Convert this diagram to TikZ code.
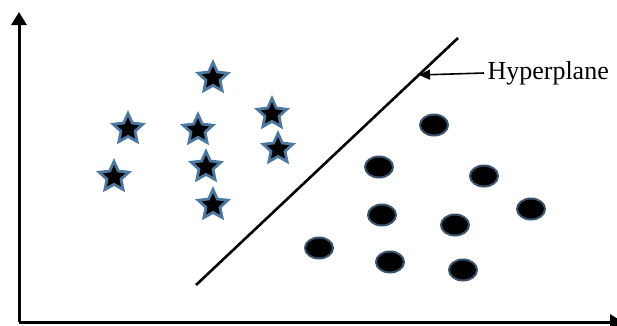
\documentclass[tikz,border=0pt]{standalone}
\usepackage{fontspec}
\setmainfont{Liberation Serif}
\usepackage{xcolor}
\usetikzlibrary{shapes.geometric, arrows.meta}

\definecolor{edgeblue}{RGB}{75,120,160}
\definecolor{dotedge}{RGB}{60,85,110}

\begin{document}
\begin{tikzpicture}[
        x=1pt, y=-1pt,
        axis/.style={line width=3pt, -{Triangle[length=13pt, width=15pt]}},
        plane/.style={line width=2.6pt},
        pointer/.style={line width=1.6pt, -{Triangle[length=11pt, width=10pt]}},
        starpt/.style={
            star,
            star points=5,
            star point ratio=2.1,
            minimum size=31pt,
            inner sep=0pt,
            draw=edgeblue,
            fill=black,
            line width=2.8pt
        },
        dotpt/.style={
            ellipse,
            minimum width=28pt,
            minimum height=21pt,
            inner sep=0pt,
            draw=dotedge,
            fill=black,
            line width=2pt
        },
        tag/.style={font=\fontsize{26}{30}\selectfont, anchor=west}
    ]

    \useasboundingbox (0,0) rectangle (617,325);

    % axes
    \coordinate (origin) at (19,322);
    \coordinate (ytop)   at (19,12);
    \coordinate (xend)   at (623,322);
    \draw [axis] (origin) -- (ytop);
    \draw [axis] (origin) -- (xend);

    % class 1
    \node (star1) [starpt] at (213,78)  {};
    \node (star2) [starpt] at (128,129) {};
    \node (star3) [starpt] at (198,130) {};
    \node (star4) [starpt] at (272,114) {};
    \node (star5) [starpt] at (278,149) {};
    \node (star6) [starpt] at (206,167) {};
    \node (star7) [starpt] at (114,177) {};
    \node (star8) [starpt] at (213,205) {};

    % class 2
    \node (dot1) [dotpt] at (434,125) {};
    \node (dot2) [dotpt] at (379,167) {};
    \node (dot3) [dotpt] at (484,176) {};
    \node (dot4) [dotpt] at (531,209) {};
    \node (dot5) [dotpt] at (382,215) {};
    \node (dot6) [dotpt] at (455,225) {};
    \node (dot7) [dotpt] at (319,248) {};
    \node (dot8) [dotpt] at (390,262) {};
    \node (dot9) [dotpt] at (463,270) {};

    % separating line
    \coordinate (hpbot) at (196,285);
    \coordinate (hptop) at (458,38);
    \coordinate (hit)   at (419,75);
    \draw [plane] (hpbot) -- (hptop);

    \node (hyper) [tag] at (484,73) {Hyperplane};
    \draw [pointer] (hyper.west) -- (hit);

\end{tikzpicture}
\end{document}
